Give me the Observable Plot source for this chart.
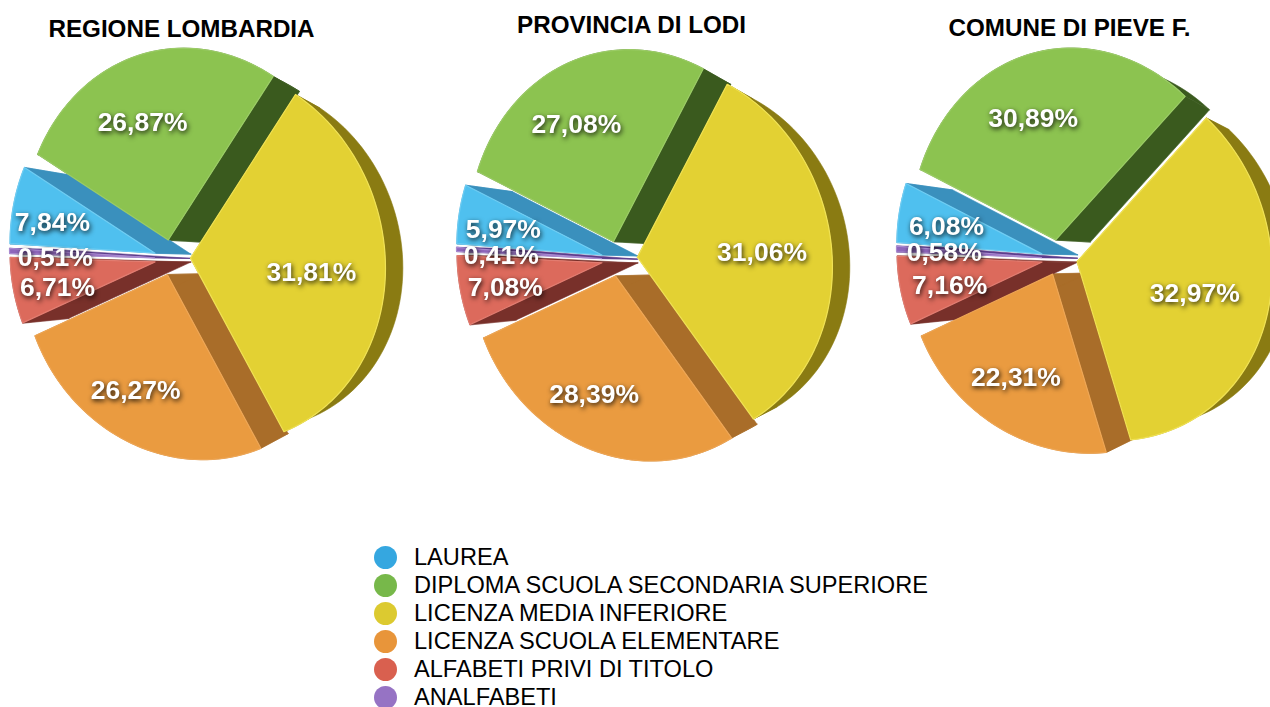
<!DOCTYPE html>
<html><head><meta charset="utf-8">
<script src="https://cdn.jsdelivr.net/npm/d3@7"></script>
<script src="https://cdn.jsdelivr.net/npm/@observablehq/plot@0.6"></script>
<style>html,body{margin:0;padding:0;background:#fff}svg{display:block}</style>
</head><body><div id="c"></div>
<script>
// Data, in the reference's clockwise drawing order
const categories = ["DIPLOMA SCUOLA SECONDARIA SUPERIORE","LICENZA MEDIA INFERIORE","LICENZA SCUOLA ELEMENTARE","ALFABETI PRIVI DI TITOLO","ANALFABETI","LAUREA"];
const lombardia = [26.87,31.81,26.27,6.71,0.51,7.84];
const lodi      = [27.08,31.06,28.39,7.08,0.41,5.97];
const pieve     = [30.89,32.97,22.31,7.16,0.58,6.08];
const pieTitles = ["REGIONE LOMBARDIA","PROVINCIA DI LODI","COMUNE DI PIEVE F."];
const legendOrder = ["LAUREA","DIPLOMA SCUOLA SECONDARIA SUPERIORE","LICENZA MEDIA INFERIORE","LICENZA SCUOLA ELEMENTARE","ALFABETI PRIVI DI TITOLO","ANALFABETI"];

// Styles and layout
const faceColor = ["#8cc350","#e3d133","#ea9b40","#dc6a5c","#8e66bb","#4fc0ef"];
const rimColor  = ["#9bcc66","#f0e255","#eea655","#e27c70","#a98ad0","#6fcdf3"];
const wallColor = ["#3a5a1e","#8a7b12","#a96d29","#78302a","#5c3d8c","#3a90bd"];
const legendColor = {"LAUREA":"#35a7e0","DIPLOMA SCUOLA SECONDARIA SUPERIORE":"#77b84a","LICENZA MEDIA INFERIORE":"#dcca30","LICENZA SCUOLA ELEMENTARE":"#e8953a","ALFABETI PRIVI DI TITOLO":"#d9604f","ANALFABETI":"#9673c4"};
const layouts = [
  {values:lombardia,cx:172,cy:257,start:-62,explode:18,c:186,d:5,titleX:181,titleY:29,
   nudgeX:[-1,4,-2,-3,-2,-8],nudgeY:[-4,12,8,2,0,-3]},
  {values:lodi,cx:619,cy:258,start:-68,explode:18,c:186,d:5,titleX:631,titleY:25,
   nudgeX:[-3,8,1,-2,-3,-3],nudgeY:[-8,8,8,1,-2,-3]},
  {values:pieve,cx:1059,cy:257,start:-67.5,explode:18,c:183,d:8,titleX:1069,titleY:28,
   nudgeX:[-1,4,3,2,0,0],nudgeY:[-7,5,1,-1,-4,-4]}
];
const rad = d => d*Math.PI/180;
const W = 1270, H = 707;

// The disc is seen slightly turned, so the left side is foreshortened
function project(L, apex, theta){
  const u = Math.sin(rad(theta)), v = -Math.cos(rad(theta));
  return [apex[0] + u*(170+25*u), apex[1] + v*(L.c+28*u-L.d*v) + 10*u];
}
const back = (L,p) => {const k=.08; return [p[0]+k*(L.cx+430-p[0]), p[1]+k*(L.cy+7-p[1])];};

const walls = [], faces = [], labels = [];
layouts.forEach((L,pi)=>{
  let a = L.start;
  L.values.forEach((val,si)=>{
    const a0=a, a1=a+val*3.6, mid=(a0+a1)/2; a=a1;
    const apex=[L.cx+L.explode*Math.sin(rad(mid)), L.cy-L.explode*Math.cos(rad(mid))];
    const arc=[]; const n=Math.max(2,Math.ceil((a1-a0)/2));
    for(let i=0;i<=n;i++) arc.push(project(L,apex,a0+(a1-a0)*i/n));
    const arcBack=arc.map(p=>back(L,p)), apexBack=back(L,apex);
    const poly=(kind,pts,fill,stroke)=>pts.map(p=>({id:`${pi}-${si}-${kind}`,x:p[0],y:p[1],fill,stroke}));
    walls.push(...poly("o",[...arc,...arcBack.slice().reverse()],wallColor[si],wallColor[si]));
    walls.push(...poly("a",[apex,arc[0],arcBack[0],apexBack],wallColor[si],wallColor[si]));
    walls.push(...poly("b",[apex,arc[n],arcBack[n],apexBack],wallColor[si],wallColor[si]));
    faces.push(...poly("f",[apex,...arc],faceColor[si],rimColor[si]));
    const u=Math.sin(rad(mid)), v=-Math.cos(rad(mid)), f=.63;
    labels.push({x:apex[0]+f*u*(170+25*u*f)+L.nudgeX[si],y:apex[1]+f*v*(186+28*u*f)-2+L.nudgeY[si],
      text:val.toFixed(2).replace(".",",")+"%"});
  });
});
const titles = layouts.map((L,i)=>({x:L.titleX,y:L.titleY,text:pieTitles[i]}));
const legend = legendOrder.map((t,i)=>({x:385,y:557+i*28,text:t,fill:legendColor[t]}));
const font="'Liberation Sans',Arial,sans-serif";

const plot = Plot.plot({
  width:W,height:H,margin:0,
  x:{domain:[0,W],range:[0,W],axis:null},
  y:{domain:[0,H],range:[0,H],axis:null},
  color:{type:"identity"},
  marks:[
    Plot.line(walls,{x:"x",y:"y",z:"id",fill:"fill",stroke:"stroke",strokeWidth:.6,curve:"linear-closed"}),
    Plot.line(faces,{x:"x",y:"y",z:"id",fill:"fill",stroke:"stroke",strokeWidth:1.2,curve:"linear-closed"}),
    Plot.text(labels,{x:"x",y:"y",text:"text",fill:"#fff",fontSize:26.5,fontWeight:700,fontFamily:font,imageFilter:"drop-shadow(1px 2px 2.5px rgba(0,0,0,.85))"}),
    Plot.text(titles,{x:"x",y:"y",text:"text",fill:"#000",fontSize:24.2,fontWeight:700,fontFamily:font}),
    Plot.dot(legend,{x:"x",y:"y",r:11.5,fill:"fill"}),
    Plot.text(legend,{x:d=>d.x+28.5,y:"y",text:"text",fill:"#000",fontSize:23.6,textAnchor:"start",fontFamily:font})
  ]
});
document.getElementById("c").append(plot);
</script></body></html>
